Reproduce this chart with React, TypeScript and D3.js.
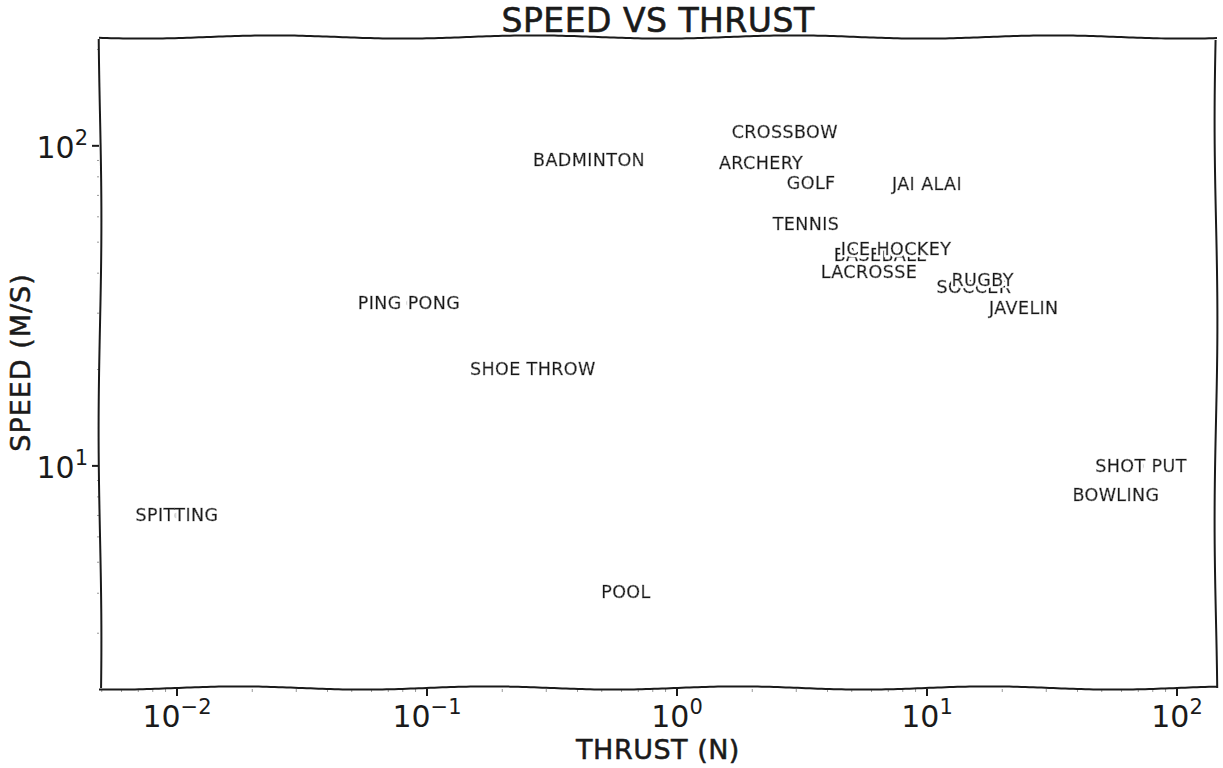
import React from 'react';
import * as d3 from 'd3';

const sports = ["CROSSBOW", "BADMINTON", "ARCHERY", "GOLF", "JAI ALAI", "TENNIS", "BASEBALL", "ICE HOCKEY", "LACROSSE", "SOCCER", "RUGBY", "JAVELIN", "PING PONG", "SHOE THROW", "SHOT PUT", "BOWLING", "SPITTING", "POOL"];
const thrust = [2.7, 0.445, 2.17, 3.44, 10, 3.28, 6.49, 7.52, 5.86, 15.4, 16.7, 24.4, 0.0847, 0.265, 71.8, 57, 0.01, 0.625];
const speed = [110.6, 90.4, 88.5, 76.6, 76, 57, 45.6, 47.7, 40.4, 36.2, 38.1, 31.2, 32.3, 20.1, 10, 8.1, 7.0, 4.03];

const xTicks = [0.01, 0.1, 1, 10, 100];
const xTickExp = ["\u22122", "\u22121", "0", "1", "2"];
const yTicks = [10, 100];
const yTickExp = ["1", "2"];

const title = "SPEED VS THRUST";
const xLabel = "THRUST (N)";
const yLabel = "SPEED (M/S)";

const W = 1223, H = 768;
const L = 100, R = 1216, T = 37, B = 688;

function wavy(x1: number, y1: number, x2: number, y2: number, amp: number, period: number, phase: number) {
  const len = Math.hypot(x2 - x1, y2 - y1);
  const n = Math.ceil(len / 4);
  const ux = (x2 - x1) / len, uy = (y2 - y1) / len;
  const nx = -uy, ny = ux;
  const pts: [number, number][] = d3.range(n + 1).map(i => {
    const t = (i / n) * len;
    const o = amp * Math.sin((2 * Math.PI * t) / period + phase);
    return [x1 + ux * t + nx * o, y1 + uy * t + ny * o];
  });
  return d3.line()(pts) || "";
}

export default function App() {
  const x = d3.scaleLog().domain([Math.pow(10, -2.308), Math.pow(10, 2.156)]).range([L, R]);
  const y = d3.scaleLog().domain([Math.pow(10, 0.306), Math.pow(10, 2.34)]).range([B, T]);

  const xMinor: number[] = [];
  for (let k = -3; k <= 2; k++) for (let m = 2; m <= 9; m++) {
    const v = m * Math.pow(10, k);
    if (x(v) > L && x(v) < R) xMinor.push(v);
  }
  const yMinor: number[] = [];
  for (let k = 0; k <= 2; k++) for (let m = 2; m <= 9; m++) {
    const v = m * Math.pow(10, k);
    if (y(v) > T && y(v) < B) yMinor.push(v);
  }

  const hand = "'DejaVu Sans', sans-serif";
  const ink = "#1a1a1a";

  return (
    <svg width={W} height={H} style={{ position: 'absolute', left: 0, top: 0 }} fontFamily={hand}>
      <defs>
        <filter id="halo" x="-10%" y="-30%" width="120%" height="160%">
          <feMorphology in="SourceAlpha" operator="dilate" radius={2} result="d" />
          <feFlood floodColor="#fff" result="w" />
          <feComposite in="w" in2="d" operator="in" result="h" />
          <feMerge>
            <feMergeNode in="h" />
            <feMergeNode in="SourceGraphic" />
          </feMerge>
        </filter>
      </defs>
      <rect width={W} height={H} fill="#fff" />
      {/* points */}
      {sports.map((s, i) => (
        <circle key={"p" + s} cx={x(thrust[i])} cy={y(speed[i])} r={3} fill="#d9d9d9" />
      ))}
      {/* labels with white halo, later labels cover earlier ones */}
      {sports.map((s, i) => (
        <text key={s} x={x(thrust[i])} y={y(speed[i])} textAnchor="middle" dominantBaseline="central"
          fontSize={17.5} letterSpacing={0.4} fill={ink} stroke={ink} strokeWidth={0.5} filter="url(#halo)">{s}</text>
      ))}
      {/* minor ticks */}
      {xMinor.map(v => (
        <line key={"xm" + v} x1={x(v)} x2={x(v)} y1={B + 1} y2={B + 4} stroke="#999" strokeWidth={1} />
      ))}
      {yMinor.map(v => (
        <line key={"ym" + v} x1={L - 3} x2={L - 1} y1={y(v)} y2={y(v)} stroke="#999" strokeWidth={1} />
      ))}
      {/* major ticks */}
      {xTicks.map(v => (
        <line key={"xt" + v} x1={x(v)} x2={x(v)} y1={B + 1} y2={B + 8} stroke={ink} strokeWidth={2} />
      ))}
      {yTicks.map(v => (
        <line key={"yt" + v} x1={L - 8} x2={L - 1} y1={y(v)} y2={y(v)} stroke={ink} strokeWidth={2} />
      ))}
      {/* tick labels */}
      {xTicks.map((v, i) => (
        <text key={"xl" + v} x={x(v)} y={B + 39} textAnchor="middle" fontSize={30} fill={ink}>
          10<tspan fontSize={21} dy={-13}>{xTickExp[i]}</tspan>
        </text>
      ))}
      {yTicks.map((v, i) => (
        <text key={"yl" + v} x={L - 12} y={y(v) + 12} textAnchor="end" fontSize={30} fill={ink}>
          10<tspan fontSize={21} dy={-13}>{yTickExp[i]}</tspan>
        </text>
      ))}
      {/* frame */}
      <path d={wavy(L - 1, T, R + 1, T, 1.6, 260, 0.5)} fill="none" stroke={ink} strokeWidth={2} />
      <path d={wavy(L - 1, B, R + 1, B, 1.6, 250, 1.2)} fill="none" stroke={ink} strokeWidth={2} />
      <path d={wavy(L, T + 2, L, B, 1.4, 420, 2.0)} fill="none" stroke={ink} strokeWidth={2} />
      <path d={wavy(R, T + 3, R, B, 1.4, 400, 0.3)} fill="none" stroke={ink} strokeWidth={2} />
      {/* titles */}
      <text x={(L + R) / 2} y={T - 5} textAnchor="middle" fontSize={33} letterSpacing={0.5} fill={ink} stroke={ink} strokeWidth={0.6}>{title}</text>
      <text x={(L + R) / 2} y={759} textAnchor="middle" fontSize={27} letterSpacing={0.5} fill={ink} stroke={ink} strokeWidth={0.5}>{xLabel}</text>
      <text transform={`translate(30,${(T + B) / 2}) rotate(-90)`} textAnchor="middle" fontSize={27} letterSpacing={1} fill={ink} stroke={ink} strokeWidth={0.5}>{yLabel}</text>
    </svg>
  );
}
